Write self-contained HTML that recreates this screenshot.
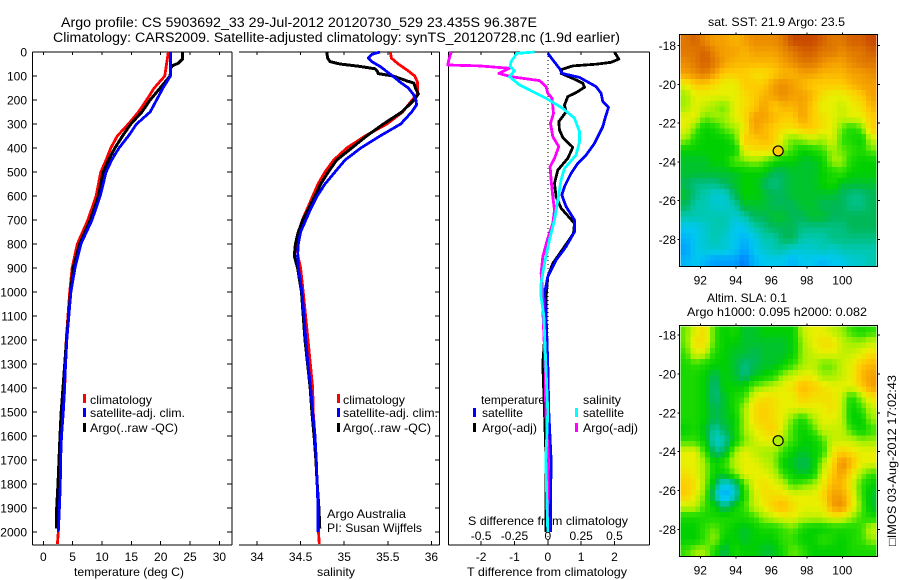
<!DOCTYPE html>
<html>
<head>
<meta charset="utf-8">
<style>
html,body{margin:0;padding:0;background:#fff;}
#wrap{width:900px;height:580px;overflow:hidden;}
svg text{font-family:"Liberation Sans",sans-serif;font-size:12px;fill:#000;}
.t14{font-size:13.5px;}
</style>
</head>
<body>
<div id="wrap">
<svg id="fig" width="900" height="580" viewBox="0 0 900 580">
<text class="t14" x="61" y="27" textLength="476" lengthAdjust="spacingAndGlyphs">Argo profile: CS 5903692_33 29-Jul-2012 20120730_529 23.435S 96.387E</text>
<text class="t14" x="53" y="42" textLength="567" lengthAdjust="spacingAndGlyphs">Climatology: CARS2009. Satellite-adjusted climatology: synTS_20120728.nc (1.9d earlier)</text>

<text x="74" y="576" textLength="110" lengthAdjust="spacingAndGlyphs">temperature (deg C)</text>
<text x="317" y="576" textLength="38" lengthAdjust="spacingAndGlyphs">salinity</text>
<text x="467" y="576" textLength="160" lengthAdjust="spacingAndGlyphs">T difference from climatology</text>
<text x="468" y="525" textLength="160" lengthAdjust="spacingAndGlyphs">S difference from climatology</text>

<text x="90" y="404" textLength="62" lengthAdjust="spacingAndGlyphs">climatology</text>
<text x="90" y="417" textLength="95" lengthAdjust="spacingAndGlyphs">satellite-adj. clim.</text>
<text x="90" y="432" textLength="88" lengthAdjust="spacingAndGlyphs">Argo(..raw -QC)</text>
<rect x="83" y="394" width="3" height="9" fill="#f00"/>
<rect x="83" y="408" width="3" height="9" fill="#00f"/>
<rect x="83" y="423" width="3" height="9" fill="#000"/>

<text x="343" y="404" textLength="62" lengthAdjust="spacingAndGlyphs">climatology</text>
<text x="343" y="417" textLength="95" lengthAdjust="spacingAndGlyphs">satellite-adj. clim.</text>
<text x="343" y="432" textLength="88" lengthAdjust="spacingAndGlyphs">Argo(..raw -QC)</text>
<rect x="337" y="394" width="3" height="9" fill="#f00"/>
<rect x="337" y="408" width="3" height="9" fill="#00f"/>
<rect x="337" y="423" width="3" height="9" fill="#000"/>
<text x="327" y="518" textLength="79" lengthAdjust="spacingAndGlyphs">Argo Australia</text>
<text x="327" y="532" textLength="95" lengthAdjust="spacingAndGlyphs">PI: Susan Wijffels</text>

<text x="481" y="404" textLength="64" lengthAdjust="spacingAndGlyphs">temperature</text>
<text x="482" y="417" textLength="41" lengthAdjust="spacingAndGlyphs">satellite</text>
<text x="482" y="432" textLength="55" lengthAdjust="spacingAndGlyphs">Argo(-adj)</text>
<rect x="473" y="408" width="3" height="9" fill="#00f"/>
<rect x="473" y="423" width="3" height="9" fill="#000"/>
<text x="583" y="404" textLength="38" lengthAdjust="spacingAndGlyphs">salinity</text>
<text x="583" y="417" textLength="41" lengthAdjust="spacingAndGlyphs">satellite</text>
<text x="583" y="432" textLength="55" lengthAdjust="spacingAndGlyphs">Argo(-adj)</text>
<rect x="575" y="408" width="3" height="9" fill="#0ff"/>
<rect x="575" y="423" width="3" height="9" fill="#f0f"/>

<text x="708" y="26" textLength="137" lengthAdjust="spacingAndGlyphs">sat. SST: 21.9 Argo: 23.5</text>
<text x="707" y="302" textLength="80" lengthAdjust="spacingAndGlyphs">Altim. SLA: 0.1</text>
<text x="687" y="316" textLength="180" lengthAdjust="spacingAndGlyphs">Argo h1000: 0.095 h2000: 0.082</text>
<text transform="translate(896,546) rotate(-90)" textLength="171" lengthAdjust="spacingAndGlyphs">□IMOS 03-Aug-2012 17:02:43</text>
</svg>
</div>
<script>
/* ---- profile tick labels ---- */
var depthTicks = [0,100,200,300,400,500,600,700,800,900,1000,1100,1200,1300,1400,1500,1600,1700,1800,1900,2000];
var tempTicks = [0,5,10,15,20,25,30];
var salTicks = [34,34.5,35,35.5,36];
var diffTTicks = [-2,-1,0,1,2];
var diffSTicks = [-0.5,-0.25,0,0.25,0.5];
var diffSLabels = ['-0.5','-0.25','0','0.25','0.5'];
var lonTicks = [92,94,96,98,100];
var latTicks = [18,20,22,24,26,28];

/* ---- temperature panel ---- */
var climTDepth = [0,100,150,200,250,300,350,400,450,500,600,700,800,900,1000,1200,1400,1500,1600,1700,1800,1900,2000,2050];
var climTValue = [21.3,20.7,18.9,17.6,16.2,14.5,12.6,11.5,10.7,9.8,9,7.6,5.8,4.9,4.5,3.9,3.65,3.4,3.1,2.9,2.8,2.7,2.55,2.4];
var argoTDepth = [0,30,47,57,68,100,150,200,250,300,350,400,450,500,600,700,800,900,1000,1200,1400,1500,1600,1700,1800,1900,1985];
var argoTValue = [23.7,23.7,23,22,21.7,21.6,19.9,18.2,16.8,14.9,13.5,12.2,11.1,10.2,9.4,8,6.2,5.1,4.65,3.95,3.35,3.05,2.85,2.67,2.5,2.28,2.28];
var satTDepth = [0,100,150,200,250,300,350,400,450,500,600,700,800,900,1000,1200,1400,1500,1600,1700,1800,1900,2000];
var satTValue = [21.65,21.65,20.4,19.3,18.2,15.9,14.5,12.9,11.65,10.7,9.7,8.3,6.4,5.4,4.7,4,3.6,3.4,3.1,2.95,2.9,2.75,2.55];

/* ---- salinity panel ---- */
var climSDepth = [0,25,50,75,100,125,175,200,250,300,350,400,450,500,550,600,650,700,750,800,850,900,1000,1200,1400,1500,1600,1700,1800,1900,2000,2050];
var climSValue = [35.53,35.54,35.62,35.72,35.81,35.84,35.84,35.78,35.67,35.49,35.24,35.03,34.88,34.78,34.7,34.64,34.58,34.52,34.48,34.455,34.47,34.5,34.53,34.585,34.639,34.645,34.665,34.68,34.69,34.7,34.705,34.715];
var argoSDepth = [0,25,40,50,60,70,80,90,100,120,130,150,175,200,250,300,350,400,450,500,550,600,650,700,750,800,850,900,1000,1200,1400,1500,1600,1700,1800,1900,1985];
var argoSValue = [34.8,34.81,34.837,34.952,35.18,35.353,35.38,35.39,35.56,35.716,35.8,35.816,35.85,35.8,35.66,35.449,35.257,35.086,34.914,34.818,34.73,34.665,34.596,34.524,34.474,34.44,34.428,34.466,34.51,34.55,34.61,34.63,34.655,34.675,34.69,34.71,34.72];
var satSDepth = [0,10,25,40,60,100,125,150,175,200,220,250,300,350,400,450,500,550,600,650,700,750,800,850,900,1000,1100,1200,1300,1400,1500,1600,1700,1800,1900,2000];
var satSValue = [35.41,35.315,35.276,35.315,35.41,35.556,35.64,35.735,35.79,35.823,35.83,35.774,35.648,35.41,35.19,35.01,34.894,34.78,34.69,34.62,34.56,34.5,34.474,34.466,34.474,34.516,34.54,34.56,34.585,34.616,34.639,34.665,34.68,34.69,34.7,34.7];

/* ---- difference panel ---- */
var diffArgoTDepth = [0,30,43,51,58,72,89,110,130,147,169,186,221,249,290,325,356,397,443,492,547,603,651,714,756,811,881,936,1019,1100,1300,1500,1700,1900,2000];
var diffArgoTValue = [2,2.13,1.9,1.45,0.75,0.43,0.4,0.75,1.05,1.1,0.85,0.6,0.5,0.55,0.33,0.35,0.45,0.75,0.6,0.3,0.2,0.25,0.4,0.8,0.77,0.5,0.15,0,-0.05,-0.05,-0.15,-0.1,-0.05,-0.05,-0.05];
var diffSatTDepth = [5,33,72,89,106,144,172,207,231,276,311,381,429,464,506,561,596,644,700,749,811,867,936,1006,1100,1300,1500,1700,1900,2000];
var diffSatTValue = [0,0.15,0.37,0.43,0.95,1.45,1.6,1.65,1.82,1.72,1.65,1.4,1.15,0.9,0.7,0.5,0.42,0.55,0.8,0.8,0.55,0.25,0,-0.1,-0.05,0,0.03,0.1,0.08,0.08];
var diffArgoSDepth = [0,33,54,58,68,89,103,119,144,172,193,256,297,353,394,443,478,533,603,658,714,776,853,922,1006,1100,1300,1500,1700,1900,2000];
var diffArgoSValue = [-0.725,-0.7425,-0.75,-0.5125,-0.2875,-0.3675,-0.275,-0.0625,-0.0125,0,0.0325,0.0425,0.02,0.0375,0.0825,0.05,0.0175,0.025,0.0375,0.05,0.0375,0,-0.0375,-0.05,-0.0375,-0.035,-0.02,-0.015,0.005,0,0];
var diffSatSDepth = [0,6,40,61,78,103,137,165,193,235,276,332,374,429,485,533,617,700,783,881,964,1019,1100,1300,1500,1700,1900,2000];
var diffSatSValue = [-0.1,-0.2325,-0.275,-0.2825,-0.25,-0.2875,-0.2125,-0.1125,-0.0125,0.1125,0.2,0.2375,0.2375,0.2125,0.125,0.1,0.075,0.05,0.0125,-0.025,-0.05,-0.05,-0.03,-0.015,0,-0.015,-0.005,0];

/* ---- map cells: colour-scale level per cell, rows north to south ---- */
var sstCells = [
[11,11.5,10.5,10,10,9.5,10,10.5,10.5,10.5,11,12,12,12,11.5,11,11,11.5,11.5,12],
[11,11,11.5,10.5,10,10,9.5,10,10,10,10.5,11,11.5,11.5,11,11,10.5,11,11,11.5],
[10.5,11,11.5,11,10,9.5,9.5,9.5,9.5,9.5,10,10.5,11,11,10.5,10,10,10.5,11,11],
[10,10.5,11,10,9,9,9,8.5,8.5,9,9.5,9.5,10,10,9.5,9.5,9.5,10,10,10.5],
[8,9,9,8.5,8,8,9,9,9,10,10.5,10,9.5,9,9,9,9,9.5,10,10],
[7,8,8,8,8,8,8.5,9,9.5,10,10.5,10,10,9.5,8.5,8,8,8.5,9,10],
[7,8,7.5,7,6.5,8,8.5,9,10,9,9.5,9.5,10,9,8,8,7.5,8,8.5,9.5],
[8,8,6.5,7,7,8,8.5,10,10,9.5,9,9,10,9,8.5,8,7.5,8,8,9],
[8,6.5,5,5.5,6.5,7,8,10,9.5,9,8.5,8.5,9,9,8.5,8,6.5,5.5,6.5,9],
[7,5.5,5,5,5,6,9,9,9.5,9,7.5,6.5,7,7.5,7,8,6,5.5,5,7.5],
[5,5,5,5,5,5,8,8.5,8.5,8.5,7,6,5,5.5,6,7,6.5,6,5.5,6.5],
[4.5,4.5,4.5,5,5,6.5,6.5,7,6.5,5.5,5,5,4.5,4.5,5,7,7,5.5,5,5],
[4.5,4.5,4.5,4.5,4.5,4.5,5,5,5,4,4,4.5,4.5,4.5,5,5.5,6,5,5,5],
[4,3.5,3.5,3.5,4,4.5,5,5,4,3.5,4,4.5,4.5,4.5,5,5.5,4.5,4.5,4.5,4.5],
[4.5,3.5,3,2.5,2.5,4,5,5,4.5,4,4,4.5,4.5,4.5,4.5,4.5,4,3.5,3.5,4],
[4,3,3,2.5,2.5,3,4.5,4.5,4.5,4,4,4,4.5,4.5,4,4,4,3.5,3.5,4],
[3,3,3,3,3,2.5,3,4,4,4.5,4.5,4,4,4.5,4.5,4,4,4,4,4],
[2,2,2.5,3,3,2,2,3,3.5,4,4,4,3.5,3.5,3.5,3.5,3.5,4,4,4],
[1.5,2,2.5,3,2.5,2,1.5,2,3,3,4,4,3,3,3,3.5,3.5,3.5,3.5,3.5],
[1,2,2.5,2.5,2.5,2,1,2,2.5,3,3,2.5,2.5,2.5,3,2.5,3,3,3,3],
[1.5,2,1.5,1,1,1,0.5,1.5,2,2,2,1.5,2,2,1.5,2,2,2.5,2.5,3]
];
var slaCells = [
[6.5,8,8.5,6,5,5.5,4.5,4.5,5,5,5,5,7.5,8,8,7.5,7,6,5.5,6],
[6.5,8.5,8.5,6,5,5,4.5,4.5,4.5,4.5,4.5,5,7,8,8.5,8.5,7.5,7,7,7.5],
[6,8,7.5,5.5,5,4.5,4.5,4,4.5,4.5,4.5,5,7,7.5,8,8,7.5,7.5,8,8.5],
[5.5,6,5.5,5,5,4.5,3.5,4,4.5,4.5,5,6,7,7.5,6.5,6.5,7.5,8,9,9.5],
[5.5,5.5,5,4,5,4.5,3.5,4.5,5,5.5,7,7.5,8,8,7,7,7.5,8,9.5,10],
[5.5,5.5,5,3.5,5,5,5,6.5,7,7.5,8,8.5,9.5,9,8.5,8,8,8,9,10],
[5.5,5.5,5,3.5,4.5,5.5,6,8,8.5,8.5,8,8,9,8.5,8.5,8.5,7.5,5.5,7,8.5],
[5.5,5.5,5,4,4.5,5.5,7,8.5,9,8.5,8,8,8,8,8,8.5,7.5,5,6,7.5],
[5.5,5.5,5,4,4.5,5,7,8.5,9,8.5,8,6.5,5.5,7,8,8,7.5,5,5,7],
[5,5.5,4.5,3,4,5,7,8,8.5,9,7.5,6,5,6,7.5,7.5,7.5,6,5,6],
[6,6,5,2.5,3,5,6.5,7.5,8,8,7,6,5,5,6,7.5,7.5,7.5,7,7],
[8,8,6,3.5,4,7,8,7.5,7,7,6,5,4.5,5,5.5,8,9,8.5,8,8],
[8,8,7,5,6,7.5,8,8,7.5,7,5,4.5,4,4.5,7,8.5,10.5,9.5,8,8],
[8.5,8,7,5,5,6.5,8,8,8,7.5,6,5,4.5,5,7.5,9,10,8.5,7,6],
[9,8.5,7,4,2,3,6,8,8.5,8,7.5,6,6.5,7,8,9.5,9.5,8,6,5],
[9,8,6.5,3,1,2.5,5.5,7.5,8.5,8.5,8.5,8,8,8,8.5,10,10,8.5,6,4.5],
[7.5,7.5,6,5,3.5,5,6,7.5,8,9,9.5,8.5,8,8,8,10,10.5,8.5,6.5,4.5],
[5.5,5.5,5.5,5.5,5.5,5.5,5.5,6,7,7.5,8,8,7.5,7.5,7.5,8,8,7,6,5.5],
[5,5,6,6.5,5.5,5,4.5,5,5.5,5.5,6,6.5,5.5,5,5,5.5,5.5,5.5,6,7.5],
[5,5,6,7,5,5,4.5,5,5,5,6,6,5,5,6,5.5,5,5.5,6,7],
[6,7,7,5.5,4,5.5,5,5,4.5,4.5,5.5,6.5,6,5,5,5,5,5.5,5.5,5.5]
];
var colourStops = ['#0050f0','#00a0ff','#00c8f0','#00c8b0','#00b858','#00d000','#30e000','#a0f000','#e8f000','#ffcc00','#f5a000','#e07800','#c84800'];
var argoLon = 96.387;
var argoLat = 23.435;

var NS = 'http://www.w3.org/2000/svg';
var fig = document.getElementById('fig');

function yDepth(d){ return 52 + 0.24 * d; }
function xTemp(v){ return 43.3 + 5.87 * v; }
function xSal(v){ return 257 + 87.2 * (v - 34); }
function xDiffT(v){ return 547.8 + 33.33 * v; }
function xDiffS(v){ return 547.8 + 133.3 * v; }
function xLon(v){ return 700.3 + 17.75 * (v - 92); }
function ySst(v){ return 84.3 + 19.4 * (v - 20); }
function ySla(v){ return 374 + 19.42 * (v - 20); }

function make(tag, attrs){
  var el = document.createElementNS(NS, tag);
  for (var k in attrs) el.setAttribute(k, attrs[k]);
  return el;
}
function addLine(x1, y1, x2, y2, name, w){
  var el = make('line', {x1:x1, y1:y1, x2:x2, y2:y2, stroke:'#000', 'stroke-width':w || 1, 'shape-rendering':'crispEdges'});
  
  
  fig.appendChild(el);
  return el;
}
function addText(x, y, str, anchor, name){
  var el = make('text', {x:x, y:y, 'text-anchor':anchor});
  el.textContent = str;
  
  
  fig.appendChild(el);
}
function addSeries(depths, values, xFn, colour, width, name){
  var pts = [];
  for (var i = 0; i < depths.length; i++) {
    pts.push(xFn(values[i]).toFixed(1) + ',' + yDepth(depths[i]).toFixed(1));
  }
  var el = make('polyline', {points:pts.join(' '), fill:'none', stroke:colour, 'stroke-width':width, 'stroke-linejoin':'round', 'shape-rendering':'crispEdges'});
  
  
  fig.appendChild(el);
}
function colourFor(level){
  var l = Math.max(0, Math.min(colourStops.length - 1, level));
  var i = Math.floor(l), f = l - i;
  var a = colourStops[i], b = colourStops[Math.min(i + 1, colourStops.length - 1)];
  var out = '#';
  for (var c = 1; c < 7; c += 2) {
    var va = parseInt(a.substr(c, 2), 16), vb = parseInt(b.substr(c, 2), 16);
    var v = Math.round(va + (vb - va) * f).toString(16);
    out += (v.length < 2 ? '0' : '') + v;
  }
  return out;
}
/* display smoothing: read a fractional row/column position from the cell grid */
function sampleLevel(cells, rf, cf){
  var rMax = cells.length - 1, cMax = cells[0].length - 1;
  rf = Math.max(0, Math.min(rMax, rf));
  cf = Math.max(0, Math.min(cMax, cf));
  var r0 = Math.floor(rf), c0 = Math.floor(cf);
  var r1 = Math.min(rMax, r0 + 1), c1 = Math.min(cMax, c0 + 1);
  var fr = rf - r0, fc = cf - c0;
  return (cells[r0][c0] * (1 - fc) + cells[r0][c1] * fc) * (1 - fr) +
         (cells[r1][c0] * (1 - fc) + cells[r1][c1] * fc) * fr;
}

/* frames */
var L = 52, B = 545;
addLine(32.5, L, 232, L, 'temperature-panel-top', 1);
addLine(32.5, B, 232, B, 'temperature-panel-bottom', 1);
addLine(32.5, L, 32.5, B, 'temperature-panel-left', 1);
addLine(232, L, 232, B, 'temperature-panel-right', 1);
addLine(239, L, 439.5, L, 'salinity-panel-top', 1);
addLine(239, B, 439.5, B, 'salinity-panel-bottom', 1);
addLine(439.5, L, 439.5, B, 'salinity-panel-right', 1);
addLine(448.5, L, 649.5, L, 'difference-panel-top', 1);
addLine(448.5, B, 649.5, B, 'difference-panel-bottom', 1);
addLine(448.5, L, 448.5, B, 'difference-panel-left', 1);
addLine(649.5, L, 649.5, B, 'difference-panel-right', 1);

/* depth ticks */
depthTicks.forEach(function(d){
  var y = yDepth(d);
  addLine(32.5, y, 37, y, 'depth-tick-left', 1);
  addLine(227, y, 232, y, 'depth-tick-right', 1);
  addLine(435, y, 439.5, y, 'salinity-depth-tick', 1);
  addText(27, y + 4.5, String(d), 'end', 'depth-tick-label');
});
tempTicks.forEach(function(v){
  var x = xTemp(v);
  addLine(x, L, x, L + 3, 'temperature-tick-top', 1);
  addLine(x, B - 4, x, B, 'temperature-tick-bottom', 1);
  addText(x, 561, String(v), 'middle', 'temperature-tick-label');
});
salTicks.forEach(function(v){
  var x = xSal(v);
  addLine(x, L, x, L + 3, 'salinity-tick-top', 1);
  addLine(x, B - 4, x, B, 'salinity-tick-bottom', 1);
  addText(x, 561, String(v), 'middle', 'salinity-tick-label');
});
diffTTicks.forEach(function(v){
  var x = xDiffT(v);
  addLine(x, L, x, L + 3, 'difference-tick-top', 1);
  addLine(x, B - 4, x, B, 'difference-tick-bottom', 1);
  addText(x, 561, String(v), 'middle', 'difference-t-tick-label');
});
diffSTicks.forEach(function(v, i){
  addText(xDiffS(v), 540, diffSLabels[i], 'middle', 'difference-s-tick-label');
});

/* zero reference */
var zeroLine = make('line', {x1:xDiffT(0), y1:L, x2:xDiffT(0), y2:B, stroke:'#000', 'stroke-width':1, 'stroke-dasharray':'1 3', 'shape-rendering':'crispEdges'});


fig.appendChild(zeroLine);

/* series */
addSeries(climTDepth, climTValue, xTemp, '#f00', 2.8, 'temperature-climatology-line');
addSeries(argoTDepth, argoTValue, xTemp, '#000', 3, 'temperature-argo-line');
addSeries(satTDepth, satTValue, xTemp, '#00f', 2.8, 'temperature-satellite-line');
addSeries(climSDepth, climSValue, xSal, '#f00', 2.8, 'salinity-climatology-line');
addSeries(argoSDepth, argoSValue, xSal, '#000', 3, 'salinity-argo-line');
addSeries(satSDepth, satSValue, xSal, '#00f', 2.8, 'salinity-satellite-line');
addSeries(diffArgoTDepth, diffArgoTValue, xDiffT, '#000', 2.8, 'difference-t-argo-line');
addSeries(diffSatTDepth, diffSatTValue, xDiffT, '#00f', 2.8, 'difference-t-satellite-line');
addSeries(diffArgoSDepth, diffArgoSValue, xDiffS, '#f0f', 2.8, 'difference-s-argo-line');
addSeries(diffSatSDepth, diffSatSValue, xDiffS, '#0ff', 2.8, 'difference-s-satellite-line');

/* maps */
function drawMap(cells, lat0, latStep, yFn, top, bottom, name, markerFill){
  var lon0 = 91.17, lonStep = 0.55;
  var g = make('g', {'shape-rendering':'crispEdges'});
  
  
  fig.appendChild(g);
  for (var r = 0; r < cells.length; r++) {
    for (var c = 0; c < cells[r].length; c++) {
      for (var sr = 0; sr < 2; sr++) {
        for (var sc = 0; sc < 2; sc++) {
          var rf = r - 0.25 + sr * 0.5, cf = c - 0.25 + sc * 0.5;
          var x1 = xLon(lon0 + lonStep * (cf - 0.25)), x2 = xLon(lon0 + lonStep * (cf + 0.25));
          var y1 = yFn(lat0 + latStep * (rf - 0.25)), y2 = yFn(lat0 + latStep * (rf + 0.25));
          var rect = make('rect', {x:x1.toFixed(2), y:y1.toFixed(2), width:(x2 - x1 + 0.4).toFixed(2), height:(y2 - y1 + 0.4).toFixed(2), fill:colourFor(sampleLevel(cells, rf, cf))});
          
          
          g.appendChild(rect);
        }
      }
    }
  }
  var frame = make('rect', {x:679.5, y:top, width:198, height:bottom - top, fill:'none', stroke:'#000', 'stroke-width':1, 'shape-rendering':'crispEdges'});
  
  
  fig.appendChild(frame);
  lonTicks.forEach(function(v){
    var x = xLon(v);
    addLine(x, top - 2, x, top, 'map-lon-tick-top', 1);
    addLine(x, bottom, x, bottom + 2, 'map-lon-tick-bottom', 1);
    addText(x, bottom + 18, String(v), 'middle', 'map-lon-label');
  });
  latTicks.forEach(function(v){
    var y = yFn(v);
    addLine(677.5, y, 679.5, y, 'map-lat-tick-left', 1);
    addLine(877.5, y, 880, y, 'map-lat-tick-right', 1);
    addText(676, y + 4.5, '-' + v, 'end', 'map-lat-label');
  });
  var marker = make('circle', {cx:xLon(argoLon), cy:yFn(argoLat), r:5, fill:markerFill, stroke:'#000', 'stroke-width':1.2});
  
  
  fig.appendChild(marker);
}
drawMap(sstCells, 17.73, 0.567, ySst, 34.5, 266.5, 'sst-map', '#ffcc00');
drawMap(slaCells, 17.825, 0.5625, ySla, 325.5, 556.5, 'sla-map', '#b0f000');
</script>
</body>
</html>
